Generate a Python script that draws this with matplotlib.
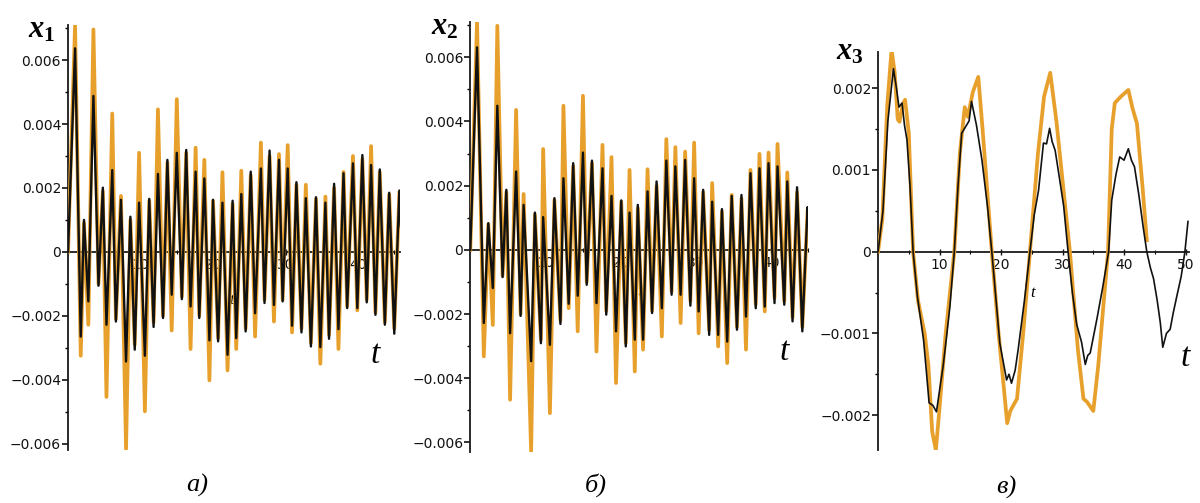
import numpy as np
import matplotlib
matplotlib.use('Agg')
import matplotlib.pyplot as plt
from matplotlib.ticker import MultipleLocator, FixedLocator, FuncFormatter

plt.rcParams['mathtext.fontset'] = 'custom'
plt.rcParams['mathtext.it'] = 'Liberation Serif:italic:bold'
plt.rcParams['mathtext.rm'] = 'Liberation Serif:bold'

ORANGE = '#E8A02C'
BLACK = '#121212'

# ---- panel a): x1 (values in 1e-3) ----
t_pk_a = [0.97, 2.2, 3.5, 4.8, 6.1, 7.3, 8.6, 9.8, 11.2, 12.4, 13.7, 15.0, 16.3, 17.6,
          18.8, 20.0, 21.3, 22.7, 23.9, 25.2, 26.6, 27.8, 29.1, 30.3, 31.5, 32.8, 34.2,
          35.5, 36.7, 38.0, 39.3, 40.6, 41.8, 43.0, 44.3, 45.7]
blk_pk_a = [6.37, 1.0, 4.88, 2.01, 2.56, 1.63, 1.1, 1.54, 1.66, 2.44, 2.88, 3.1, 3.19, 2.51,
            2.3, 1.63, 1.54, 1.6, 1.81, 2.51, 2.61, 3.17, 2.88, 2.61, 2.18, 1.68, 1.71,
            1.54, 2.13, 2.46, 2.77, 3.03, 2.72, 2.58, 1.85, 1.92]
org_pk_a = [7.1, 0.9, 6.96, 1.9, 4.33, 1.75, 1.0, 3.1, 1.6, 4.46, 2.8, 4.78, 3.1, 3.26,
            2.88, 1.6, 2.49, 1.5, 2.54, 2.4, 3.42, 3.0, 3.06, 3.34, 2.1, 2.1, 1.65,
            1.73, 2.0, 2.5, 3.0, 2.9, 3.31, 2.5, 1.8, 1.85]
t_tr_a = [1.75, 2.8, 4.2, 5.3, 6.6, 8.0, 9.2, 10.6, 11.8, 13.1, 14.3, 15.7, 16.9, 18.1,
          19.5, 20.7, 22.0, 23.2, 24.5, 25.8, 27.1, 28.4, 29.6, 30.9, 32.2, 33.5, 34.8,
          36.0, 37.3, 38.5, 39.9, 41.2, 42.4, 43.7, 45.0]
blk_tr_a = [-2.65, -1.55, -1.06, -2.28, -2.18, -3.43, -3.06, -3.25, -2.35, -2.07, -1.34,
            -1.48, -1.71, -2.07, -2.77, -2.8, -3.22, -2.7, -2.49, -1.92, -1.6, -1.66,
            -1.55, -2.31, -2.52, -2.96, -2.98, -2.72, -2.42, -1.76, -1.76, -1.58, -1.97,
            -2.28, -2.56]
org_tr_a = [-3.25, -2.28, -1.0, -4.54, -2.1, -6.17, -2.9, -4.99, -2.2, -2.0, -2.46,
            -1.4, -3.04, -2.0, -4.02, -2.7, -3.71, -3.04, -2.4, -2.65, -1.5, -2.18,
            -1.5, -2.52, -2.4, -2.85, -3.5, -2.6, -3.04, -1.7, -1.83, -1.5, -1.9,
            -2.2, -2.4]

# ---- panel b): x2 (values in 1e-3) ----
t_pk_b = [0.9, 2.4, 3.6, 4.8, 6.1, 7.1, 8.6, 9.7, 11.2, 12.4, 13.7, 15.0, 16.2, 17.6,
          18.8, 20.1, 21.2, 22.3, 23.6, 24.8, 26.1, 27.3, 28.6, 29.8, 31.0, 32.2, 33.5,
          34.8, 36.1, 37.3, 38.5, 39.7, 40.9, 42.2, 43.5, 44.9]
blk_pk_b = [6.31, 0.83, 4.49, 1.87, 2.44, 1.4, 1.16, 1.02, 1.61, 2.23, 2.7, 3.03, 2.78,
            2.54, 1.68, 1.54, 1.16, 1.4, 1.82, 2.13, 2.78, 2.6, 2.8, 2.23, 1.87, 1.5,
            1.27, 1.68, 1.71, 2.39, 2.54, 2.7, 2.6, 2.13, 1.95, 1.33]
org_pk_b = [7.11, 0.8, 6.98, 1.8, 4.36, 1.74, 1.1, 3.14, 1.55, 4.49, 2.6, 4.8, 2.7, 3.27,
            2.89, 1.5, 2.49, 1.3, 2.51, 2.0, 3.45, 3.2, 3.06, 3.34, 1.8, 2.08, 1.2, 1.71,
            1.6, 2.49, 2.99, 3.03, 3.3, 2.41, 1.8, 1.2]
t_tr_b = [1.8, 3.0, 4.3, 5.3, 6.7, 8.1, 9.4, 10.6, 12.0, 13.1, 14.3, 15.5, 16.8, 18.1,
          19.4, 20.7, 21.9, 23.0, 24.2, 25.5, 26.8, 28.0, 29.3, 30.4, 31.8, 33.0, 34.2,
          35.5, 36.7, 38.0, 39.2, 40.5, 41.8, 42.9, 44.2]
blk_tr_b = [-2.28, -1.19, -0.85, -2.6, -2.06, -3.47, -2.91, -2.96, -2.31, -1.68, -1.43,
            -1.09, -1.66, -2.02, -2.54, -3.01, -2.8, -2.8, -1.97, -1.82, -1.4, -1.4,
            -1.74, -1.92, -2.65, -2.65, -2.86, -2.49, -2.08, -1.82, -1.77, -1.66, -1.71,
            -2.23, -2.54]
org_tr_b = [-3.32, -2.34, -0.8, -4.67, -2.0, -6.28, -2.8, -5.09, -2.2, -1.82, -2.54,
            -1.0, -3.17, -1.9, -4.15, -2.9, -3.79, -3.11, -1.9, -2.7, -1.3, -2.28, -1.6,
            -2.6, -2.5, -3.01, -3.53, -2.4, -3.11, -1.7, -1.92, -1.5, -1.6, -2.1, -2.4]

# ---- panel в): x3 (values in 1e-3) ----
t_blk_c = [0, 0.8, 1.6, 2.5, 3.0, 3.4, 3.9, 4.3, 4.7, 5.2, 5.7, 6.4, 7.4, 7.9, 8.3, 8.9,
           9.5, 10.0, 10.6, 11.2, 11.7, 12.4, 13.0, 13.6, 14.4, 14.8, 15.2, 16.0, 16.9,
           17.8, 18.5, 19.2, 19.8, 20.9, 21.3, 21.7, 22.3, 22.8, 23.8, 24.7, 25.4, 26.1,
           26.9, 27.4, 27.9, 28.3, 28.8, 29.5, 30.2, 30.9, 31.6, 32.3, 33.1, 33.7, 34.1,
           34.5, 35.0, 35.6, 36.5, 37.5, 38.0, 38.7, 39.3, 40.0, 40.7, 41.2, 41.7, 42.4,
           43.1, 43.7, 44.3, 44.8, 45.4, 45.9, 46.3, 46.9, 47.5, 48.0, 48.6, 49.3, 49.9,
           50.4]
v_blk_c = [0, 0.5, 1.6, 2.24, 2.0, 1.77, 1.82, 1.55, 1.37, 0.8, 0, -0.55, -1.08, -1.5,
           -1.85, -1.88, -1.96, -1.7, -1.39, -1.0, -0.66, 0, 0.8, 1.45, 1.55, 1.6, 1.84,
           1.55, 1.12, 0.55, 0, -0.6, -1.12, -1.57, -1.5, -1.61, -1.45, -1.19, -0.6, 0,
           0.45, 0.75, 1.33, 1.32, 1.51, 1.35, 1.24, 0.9, 0.55, 0, -0.5, -0.89, -1.11,
           -1.38, -1.27, -1.24, -1.05, -0.82, -0.45, 0, 0.63, 0.95, 1.16, 1.12, 1.26,
           1.12, 1.04, 0.7, 0.31, 0, -0.2, -0.33, -0.6, -0.87, -1.17, -1.0, -0.95,
           -0.75, -0.54, -0.3, 0, 0.37]
t_org_c = [0, 0.7, 1.5, 2.2, 2.7, 3.2, 3.5, 4.0, 4.4, 5.0, 5.7, 6.5, 7.6, 8.2, 8.8, 9.4,
           9.9, 11.0, 12.4, 13.3, 14.1, 14.6, 15.4, 16.3, 17.0, 18.5, 19.6, 20.5, 21.0,
           21.5, 22.6, 23.6, 24.7, 26.0, 27.0, 28.0, 29.0, 31.2, 32.5, 33.4, 34.0, 35.0,
           35.8, 37.4, 38.0, 38.5, 39.5, 40.7, 41.4, 42.1, 43.0, 43.7]
v_org_c = [0, 0.4, 1.8, 2.47, 2.2, 1.62, 1.59, 1.8, 1.86, 1.45, 0, -0.6, -1.01, -1.4,
           -2.2, -2.43, -2.0, -1.0, 0, 1.2, 1.77, 1.65, 1.95, 2.14, 1.5, 0, -1.0, -1.7,
           -2.1, -1.95, -1.8, -1.0, 0, 1.2, 1.9, 2.19, 1.6, 0, -1.2, -1.8, -1.84, -1.95,
           -1.4, 0, 1.5, 1.82, 1.9, 1.98, 1.75, 1.57, 0.8, 0.14]


def merge(t_pk, v_pk, t_tr, v_tr, t_end=None, v_end=None):
    t = [0.0] + list(t_pk) + list(t_tr)
    v = [0.0] + list(v_pk) + list(v_tr)
    if t_end is not None:
        t.append(t_end)
        v.append(v_end)
    order = np.argsort(t)
    return np.array(t)[order], np.array(v)[order] * 1e-3


def style_axes(ax, xmax, ylim, ymajor, yminor, xmajor, xminor):
    ax.set_xlim(0, xmax)
    ax.set_ylim(*ylim)
    for s in ['top', 'right']:
        ax.spines[s].set_visible(False)
    ax.spines['left'].set_position(('data', 0))
    ax.spines['bottom'].set_position(('data', 0))
    for s in ['left', 'bottom']:
        ax.spines[s].set_linewidth(1.3)
        ax.spines[s].set_color('#1a1a1a')
    ax.yaxis.set_major_locator(MultipleLocator(ymajor))
    ax.yaxis.set_minor_locator(MultipleLocator(yminor))
    ax.xaxis.set_major_locator(FixedLocator(xmajor))
    ax.xaxis.set_minor_locator(MultipleLocator(xminor))
    ax.yaxis.set_major_formatter(FuncFormatter(
        lambda v, p: '0' if abs(v) < 1e-12 else ('%g' % v).replace('-', '\u2212')))
    ax.tick_params(axis='y', which='major', direction='out', length=4, width=1.2,
                   labelsize=10, pad=1, colors='#111111')
    ax.tick_params(axis='y', which='minor', direction='out', length=2.5, width=1.0)
    ax.tick_params(axis='x', which='major', direction='inout', length=5, width=1.0,
                   labelsize=10, pad=2, colors='#111111')
    ax.tick_params(axis='x', which='minor', direction='inout', length=3, width=0.8)
    ax.set_axisbelow(True)
    ax.patch.set_alpha(0)


fig = plt.figure(figsize=(12, 5.03), dpi=100)

ax_a = fig.add_axes([0.0567, 0.1054, 0.2767, 0.8449])
ax_b = fig.add_axes([0.3919, 0.1014, 0.2817, 0.8549])
ax_c = fig.add_axes([0.7317, 0.1050, 0.2588, 0.7909])

# a)
t, v = merge(t_pk_a, org_pk_a, t_tr_a, org_tr_a)
ax_a.plot(t, v, color=ORANGE, lw=2.7, zorder=3, solid_joinstyle='round')
t, v = merge(t_pk_a, blk_pk_a, t_tr_a, blk_tr_a, 45.9, 0.8)
ax_a.plot(t, v, color=BLACK, lw=1.7, zorder=4)
style_axes(ax_a, 45.8, (-0.0062, 0.0071), 0.002, 0.001, [10, 20, 30, 40], 5)

# б)
t, v = merge(t_pk_b, org_pk_b, t_tr_b, org_tr_b)
ax_b.plot(t, v, color=ORANGE, lw=2.7, zorder=3, solid_joinstyle='round')
t, v = merge(t_pk_b, blk_pk_b, t_tr_b, blk_tr_b, 45.0, 0.8)
ax_b.plot(t, v, color=BLACK, lw=1.7, zorder=4)
style_axes(ax_b, 45.0, (-0.0063, 0.0071), 0.002, 0.001, [10, 20, 30, 40], 5)

# в)
ax_c.plot(t_org_c, np.array(v_org_c) * 1e-3, color=ORANGE, lw=2.7, zorder=3)
ax_c.plot(t_blk_c, np.array(v_blk_c) * 1e-3, color=BLACK, lw=1.2, zorder=4)
style_axes(ax_c, 50.5, (-0.00243, 0.00244), 0.001, 0.0005, [10, 20, 30, 40, 50], 5)

# axis names
fig.text(0.023, 0.942, r'$x_1$', fontsize=22, ha='left', va='center')
fig.text(0.359, 0.948, r'$x_2$', fontsize=22, ha='left', va='center')
fig.text(0.697, 0.898, r'$x_3$', fontsize=22, ha='left', va='center')

serif_it = dict(family='Liberation Serif', style='italic')
fig.text(375 / 1200, 1 - 355 / 503, 't', fontsize=24, ha='center', va='center', **serif_it)
fig.text(784 / 1200, 1 - 352 / 503, 't', fontsize=24, ha='center', va='center', **serif_it)
fig.text(1185 / 1200, 1 - 358 / 503, 't', fontsize=24, ha='center', va='center', **serif_it)

# small default labels under the lines
ax_a.text(232 / 1200, 1 - 300 / 503, 't', fontsize=12, ha='center', va='center',
          transform=fig.transFigure, zorder=1, **serif_it)
ax_b.text(640 / 1200, 1 - 292 / 503, 't', fontsize=12, ha='center', va='center',
          transform=fig.transFigure, zorder=1, **serif_it)
fig.text(1033 / 1200, 1 - 293 / 503, 't', fontsize=12, ha='center', va='center', **serif_it)

# captions
fig.text(197 / 1200, 1 - 485 / 503, 'а)', fontsize=19, ha='center', va='center', **serif_it)
fig.text(596 / 1200, 1 - 485 / 503, 'б)', fontsize=19, ha='center', va='center', **serif_it)
fig.text(1006 / 1200, 1 - 487 / 503, 'в)', fontsize=19, ha='center', va='center', **serif_it)

plt.savefig('out.png', dpi=100)
